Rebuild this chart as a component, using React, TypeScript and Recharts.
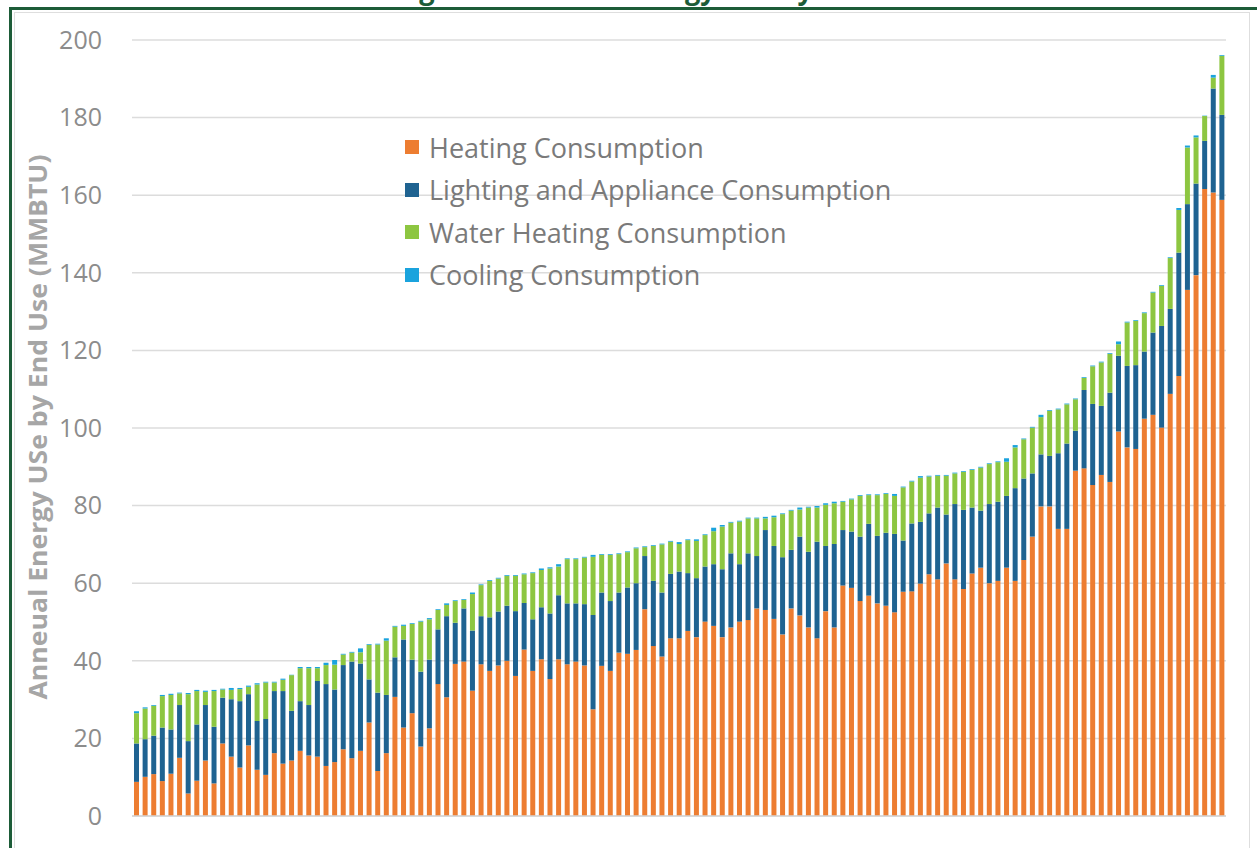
import React from 'react';
import { BarChart, Bar, XAxis, YAxis, CartesianGrid, Legend } from 'recharts';

const homes = [
  1, 2, 3, 4, 5, 6, 7, 8, 9, 10, 11, 12, 13, 14, 15, 16, 17, 18, 19, 20,
  21, 22, 23, 24, 25, 26, 27, 28, 29, 30, 31, 32, 33, 34, 35, 36, 37, 38, 39, 40,
  41, 42, 43, 44, 45, 46, 47, 48, 49, 50, 51, 52, 53, 54, 55, 56, 57, 58, 59, 60,
  61, 62, 63, 64, 65, 66, 67, 68, 69, 70, 71, 72, 73, 74, 75, 76, 77, 78, 79, 80,
  81, 82, 83, 84, 85, 86, 87, 88, 89, 90, 91, 92, 93, 94, 95, 96, 97, 98, 99, 100,
  101, 102, 103, 104, 105, 106, 107, 108, 109, 110, 111, 112, 113, 114, 115, 116, 117, 118, 119, 120,
  121, 122, 123, 124, 125, 126, 127,
];

const heating = [
  8.8, 10.1, 10.8, 9.0, 10.9, 15.0, 5.8, 9.1, 14.3, 8.4,
  18.7, 15.3, 12.5, 18.2, 11.9, 10.6, 16.2, 13.5, 14.3, 16.8,
  15.6, 15.3, 12.9, 13.9, 17.2, 14.9, 16.8, 24.1, 11.6, 16.2,
  30.7, 22.8, 26.5, 17.9, 22.6, 34.0, 30.6, 39.2, 39.8, 32.3,
  39.1, 37.4, 38.8, 40.0, 36.1, 42.9, 37.4, 40.4, 35.3, 40.4,
  39.1, 39.8, 38.8, 27.5, 38.7, 37.4, 42.1, 41.8, 42.8, 53.3,
  43.8, 41.1, 45.8, 45.8, 47.7, 46.1, 50.1, 49.0, 46.1, 48.6,
  50.1, 50.5, 53.5, 53.1, 50.8, 46.8, 53.5, 51.7, 48.6, 45.8,
  52.8, 48.6, 59.4, 58.8, 55.4, 56.8, 54.8, 54.2, 52.5, 57.8,
  57.9, 59.9, 62.3, 61.0, 65.1, 61.0, 58.5, 62.5, 64.0, 60.0,
  60.6, 64.0, 60.6, 66.0, 72.0, 79.8, 79.8, 74.0, 74.0, 89.0,
  89.6, 85.3, 87.9, 86.1, 99.1, 95.0, 94.6, 102.4, 103.4, 100.1,
  108.8, 113.4, 135.6, 139.4, 161.6, 160.7, 158.8,
];

const lighting = [
  9.9, 9.7, 9.9, 13.8, 11.4, 13.6, 13.5, 14.5, 14.3, 14.6,
  11.8, 14.8, 17.1, 13.2, 12.6, 14.4, 16.0, 18.7, 12.8, 12.8,
  13.0, 19.5, 21.1, 18.7, 21.7, 24.9, 22.5, 11.1, 20.2, 15.0,
  10.2, 22.7, 13.8, 19.3, 17.7, 14.1, 20.9, 10.6, 13.7, 15.5,
  12.4, 13.8, 13.9, 14.2, 16.7, 12.0, 13.3, 13.4, 16.9, 16.5,
  15.7, 15.0, 15.8, 24.3, 18.9, 18.0, 15.5, 17.1, 17.2, 13.7,
  16.8, 16.5, 16.6, 17.2, 14.9, 15.2, 14.2, 15.9, 17.5, 19.1,
  14.8, 17.2, 13.5, 20.6, 18.8, 19.9, 15.1, 20.3, 19.5, 24.9,
  16.8, 21.5, 14.3, 14.5, 16.6, 18.5, 17.4, 18.8, 20.2, 13.2,
  17.5, 15.9, 15.7, 18.5, 12.6, 19.4, 20.4, 17.0, 14.7, 20.4,
  20.4, 18.5, 23.9, 21.0, 16.3, 13.4, 13.0, 19.5, 22.0, 10.3,
  20.2, 20.9, 17.8, 23.0, 19.5, 21.0, 21.6, 17.3, 21.2, 26.2,
  21.9, 31.8, 22.1, 23.6, 12.4, 26.8, 21.9,
];

const waterHeating = [
  7.8, 7.9, 7.7, 8.1, 8.9, 3.0, 12.1, 8.6, 3.4, 9.2,
  2.1, 2.4, 3.1, 1.9, 9.4, 9.4, 2.2, 2.9, 9.2, 8.5,
  9.5, 3.3, 4.9, 6.4, 2.7, 2.3, 2.9, 8.9, 12.4, 14.0,
  7.9, 3.5, 9.2, 12.9, 10.4, 5.0, 2.9, 5.6, 2.2, 9.4,
  8.0, 9.4, 8.5, 7.7, 9.1, 7.4, 11.9, 9.6, 11.6, 7.4,
  11.4, 11.4, 12.0, 15.0, 9.7, 11.9, 9.9, 9.1, 9.0, 2.3,
  9.0, 12.4, 8.3, 7.1, 8.5, 9.6, 8.1, 8.5, 11.0, 7.9,
  11.0, 9.0, 9.7, 3.0, 7.4, 11.1, 10.1, 7.0, 11.4, 8.8,
  10.6, 10.5, 7.3, 8.3, 10.5, 7.4, 10.5, 10.0, 9.8, 13.7,
  10.8, 11.4, 9.5, 8.2, 10.0, 7.9, 9.8, 9.7, 11.1, 10.3,
  10.2, 8.8, 10.5, 10.1, 11.8, 9.6, 11.6, 11.3, 10.1, 8.1,
  3.1, 9.7, 11.2, 10.0, 3.0, 11.2, 11.4, 9.9, 10.3, 10.3,
  13.1, 11.0, 14.6, 11.9, 6.4, 2.8, 15.2,
];

const cooling = [
  0.5, 0.3, 0.2, 0.3, 0.3, 0.2, 0.3, 0.3, 0.3, 0.3,
  0.2, 0.5, 0.3, 0.3, 0.3, 0.2, 0.2, 0.3, 0.1, 0.3,
  0.3, 0.3, 0.6, 1.2, 0.2, 0.2, 1.0, 0.2, 0.2, 0.6,
  0.2, 0.3, 0.2, 0.2, 0.3, 0.2, 0.4, 0.2, 0.2, 0.4,
  0.2, 0.2, 0.2, 0.2, 0.2, 0.2, 0.2, 0.4, 0.3, 0.6,
  0.2, 0.2, 0.2, 0.5, 0.2, 0.2, 0.2, 0.2, 0.2, 0.2,
  0.2, 0.2, 0.2, 0.5, 0.2, 0.4, 0.2, 0.9, 0.4, 0.2,
  0.2, 0.2, 0.2, 0.4, 0.4, 0.2, 0.2, 0.5, 0.2, 0.4,
  0.4, 0.4, 0.2, 0.2, 0.2, 0.2, 0.2, 0.2, 0.5, 0.2,
  0.2, 0.4, 0.2, 0.2, 0.2, 0.2, 0.2, 0.2, 0.2, 0.2,
  0.2, 0.9, 0.6, 0.2, 0.2, 0.6, 0.2, 0.2, 0.2, 0.2,
  0.2, 0.2, 0.2, 0.2, 0.7, 0.2, 0.2, 0.2, 0.2, 0.2,
  0.2, 0.5, 0.5, 0.5, 0.1, 0.7, 0.2,
];

const yTicks = [0, 20, 40, 60, 80, 100, 120, 140, 160, 180, 200];

const seriesNames = [
  'Heating Consumption',
  'Lighting and Appliance Consumption',
  'Water Heating Consumption',
  'Cooling Consumption',
];
const seriesColors = ['#ED7D31', '#1F6391', '#8DC641', '#1AA3DD'];

const titleText = 'Figure 1: Annual Energy Use by End Use';
const yAxisTitle = 'Anneual Energy USe by End Use (MMBTU)';

const data = homes.map((h, i) => ({
  home: h,
  heating: heating[i],
  lighting: lighting[i],
  water: waterHeating[i],
  cooling: cooling[i],
}));

function LegendContent() {
  return (
    <div style={{ fontFamily: '"Open Sans", sans-serif', fontSize: 27, color: '#7a7a7a' }}>
      {seriesNames.map((name, i) => (
        <div key={name} style={{ display: 'flex', alignItems: 'center', height: 42.5 }}>
          <span style={{ display: 'inline-block', width: 14, height: 14, background: seriesColors[i], marginRight: 10 }} />
          <span style={{ whiteSpace: 'nowrap', lineHeight: 1 }}>{name}</span>
        </div>
      ))}
    </div>
  );
}

export default function App() {
  return (
    <div style={{ position: 'absolute', left: 0, top: 0, width: 1257, height: 848, overflow: 'hidden', background: '#ffffff' }}>
      <div style={{ position: 'absolute', left: 9, top: 7, width: 1260, height: 2.5, background: '#1D5C38' }} />
      <div style={{ position: 'absolute', left: 9, top: 7, width: 2.5, height: 860, background: '#1D5C38' }} />
      <div style={{ position: 'absolute', left: 14, top: 12, width: 1236, height: 860, border: '1px solid #dedede', boxSizing: 'border-box' }} />
      <div style={{ position: 'absolute', left: 0, top: 0 }}>
        <BarChart
          width={1257}
          height={848}
          data={data}
          margin={{ top: 40, right: 31, bottom: 31, left: 32 }}
          barSize={5}
        >
          <CartesianGrid vertical={false} stroke="#dcdcdc" strokeWidth={1.5} />
          <XAxis dataKey="home" tick={false} tickLine={false} axisLine={{ stroke: '#d4d4d4', strokeWidth: 1.5 }} height={1} />
          <YAxis
            domain={[0, 200]}
            ticks={yTicks}
            width={100}
            axisLine={false}
            tickLine={false}
            tickSize={0}
            tickMargin={30}
            tick={{ fill: '#8c8c8c', fontSize: 25, fontFamily: '"Open Sans", sans-serif' }}
          />
          <Legend
            layout="vertical"
            align="center"
            verticalAlign="middle"
            wrapperStyle={{ left: 405, top: 126, width: 560 }}
            content={<LegendContent />}
          />
          <Bar dataKey="heating" name={seriesNames[0]} stackId="a" fill={seriesColors[0]} isAnimationActive={false} />
          <Bar dataKey="lighting" name={seriesNames[1]} stackId="a" fill={seriesColors[1]} isAnimationActive={false} />
          <Bar dataKey="water" name={seriesNames[2]} stackId="a" fill={seriesColors[2]} isAnimationActive={false} />
          <Bar dataKey="cooling" name={seriesNames[3]} stackId="a" fill={seriesColors[3]} isAnimationActive={false} />
        </BarChart>
      </div>
      <svg width={1257} height={848} style={{ position: 'absolute', left: 0, top: 0, pointerEvents: 'none' }}>
        <text
          x={396}
          y={-1}
          fontFamily='"Open Sans", sans-serif'
          fontWeight={700}
          fontSize={28}
          fill="#1D5C38"
          textLength={532}
          lengthAdjust="spacingAndGlyphs"
        >
          {titleText}
        </text>
        <text
          transform="translate(47,427) rotate(-90)"
          textAnchor="middle"
          fontFamily='"Open Sans", sans-serif'
          fontWeight={700}
          fontSize={25}
          fill="#a6a6a6"
          textLength={545}
          lengthAdjust="spacingAndGlyphs"
        >
          {yAxisTitle}
        </text>
      </svg>
    </div>
  );
}
